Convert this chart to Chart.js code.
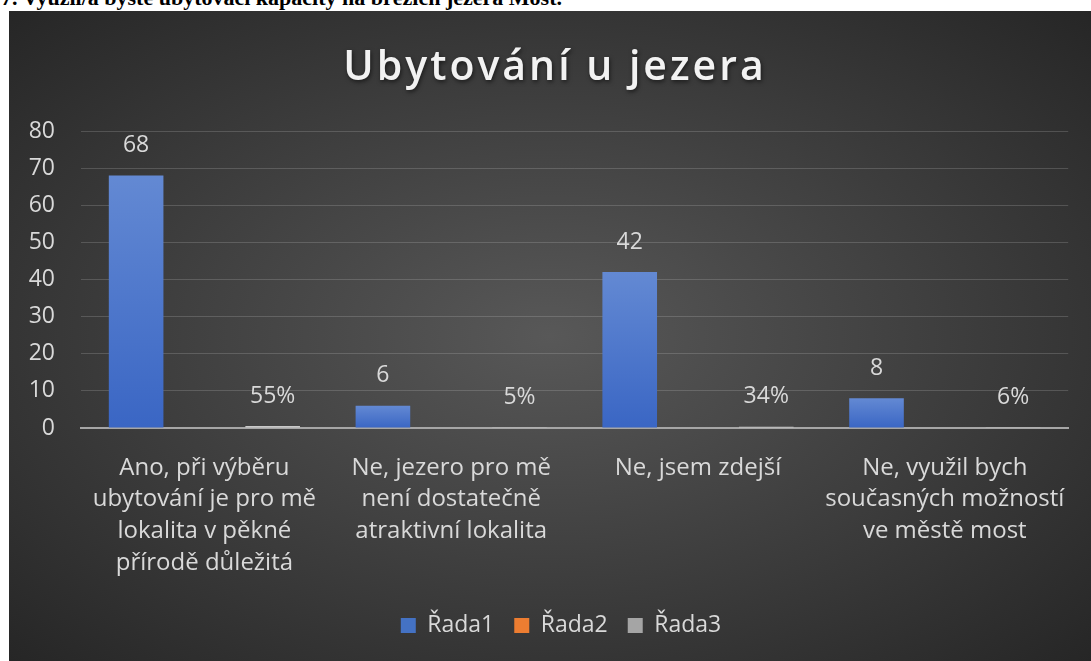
<!DOCTYPE html>
<html>
<head>
<meta charset="utf-8">
<script src="https://cdn.jsdelivr.net/npm/chart.js@4"></script>
<style>
  body { margin: 0; background: #fff; width: 1091px; height: 661px; overflow: hidden; position: relative; }
  #heading {
    position: absolute; left: 1px; top: -13px;
    font: bold 22px "Liberation Serif", "Times New Roman", serif;
    line-height: 1; color: #000; white-space: nowrap;
  }
  #box {
    position: absolute; left: 9px; top: 11px; width: 1082px; height: 650px;
    background: radial-gradient(ellipse farthest-corner at 50% 50%, #585858 0%, #262626 100%);
  }
</style>
</head>
<body>
<div id="heading">7. Využil/a byste ubytovací kapacity na březích jezera Most.</div>
<div id="box"><canvas id="chart" width="1082" height="650"></canvas></div>
<script>
const chartTitle = 'Ubytování u jezera';
const categories = [
  ['Ano, při výběru', 'ubytování je pro mě', 'lokalita v pěkné', 'přírodě důležitá'],
  ['Ne, jezero pro mě', 'není dostatečně', 'atraktivní lokalita'],
  ['Ne, jsem zdejší'],
  ['Ne, využil bych', 'současných možností', 've městě most']
];
const seriesNames = ['Řada1', 'Řada2', 'Řada3'];
const rada1 = [68, 6, 42, 8];
const rada2 = [0, 0, 0, 0];
const rada3 = [0.55, 0.05, 0.34, 0.06];
const yTicks = [0, 10, 20, 30, 40, 50, 60, 70, 80];

const textColor = '#d9d9d9';
const font = '"Open Sans", "DejaVu Sans", sans-serif';

// blue bars get a light-to-dark vertical gradient, per bar
function blueFill(ctx) {
  const chart = ctx.chart;
  if (!chart.chartArea || ctx.type !== 'data') return '#4472c4';
  const y = chart.scales.y;
  const top = y.getPixelForValue(ctx.parsed.y);
  const bottom = y.getPixelForValue(0);
  if (!isFinite(top) || bottom - top < 1) return '#4472c4';
  const g = chart.ctx.createLinearGradient(0, top, 0, bottom);
  g.addColorStop(0, '#6389d3');
  g.addColorStop(1, '#3a66c4');
  return g;
}

// value labels above the bars (series 1 as numbers, series 3 as percent)
const valueLabels = {
  id: 'valueLabels',
  afterDatasetsDraw(chart) {
    const c = chart.ctx;
    c.save();
    c.font = '23px ' + font;
    c.fillStyle = textColor;
    c.textAlign = 'center';
    c.textBaseline = 'middle';
    [0, 2].forEach(i => {
      const meta = chart.getDatasetMeta(i);
      const data = chart.data.datasets[i].data;
      meta.data.forEach((bar, j) => {
        const txt = i === 2 ? Math.round(data[j] * 100) + '%' : String(data[j]);
        c.fillText(txt, bar.x, bar.y - 30);
      });
    });
    c.restore();
  }
};

// title drawn by hand so it can have letter spacing
const spacedTitle = {
  id: 'spacedTitle',
  afterDraw(chart) {
    const c = chart.ctx;
    c.save();
    c.font = '600 41px ' + font;
    c.letterSpacing = '3px';
    c.fillStyle = '#f2f2f2';
    c.textAlign = 'center';
    c.textBaseline = 'alphabetic';
    c.shadowColor = 'rgba(0,0,0,0.55)';
    c.shadowBlur = 4;
    c.shadowOffsetX = 1;
    c.shadowOffsetY = 2;
    c.fillText(chartTitle, 546, 69);
    c.restore();
  }
};

new Chart(document.getElementById('chart'), {
  type: 'bar',
  data: {
    labels: categories,
    datasets: [
      { label: seriesNames[0], data: rada1, backgroundColor: blueFill, borderWidth: 0 },
      { label: seriesNames[1], data: rada2, backgroundColor: '#ed7d31', borderWidth: 0 },
      { label: seriesNames[2], data: rada3, backgroundColor: '#c9c9c9', borderWidth: 0 }
    ]
  },
  options: {
    responsive: false,
    animation: false,
    categoryPercentage: 0.83,
    barPercentage: 0.8,
    // negative right padding + empty right axis shifts the legend centre right
    layout: { padding: { top: 120, right: -22, left: 0, bottom: 14 } },
    plugins: {
      title: { display: false },
      tooltip: { enabled: false },
      legend: {
        position: 'bottom',
        labels: {
          color: textColor,
          font: { family: font, size: 23 },
          boxWidth: 15,
          boxHeight: 15,
          padding: 20,
          generateLabels(chart) {
            const cols = ['#4472c4', '#ed7d31', '#a5a5a5'];
            return chart.data.datasets.map((ds, i) => ({
              text: ds.label, fillStyle: cols[i], strokeStyle: cols[i],
              lineWidth: 0, datasetIndex: i, fontColor: textColor
            }));
          }
        }
      }
    },
    scales: {
      x: {
        grid: { display: false, drawTicks: false },
        border: { display: true, color: '#a6a6a6', width: 2 },
        ticks: {
          color: textColor,
          font: { family: font, size: 24, lineHeight: 1.32 },
          padding: 24,
          maxRotation: 0,
          autoSkip: false
        },
        afterFit(scale) { scale.height = 166; }
      },
      y: {
        min: 0,
        max: 80,
        afterBuildTicks(scale) { scale.ticks = yTicks.map(v => ({ value: v })); },
        grid: {
          color: ctx => ctx.tick && ctx.tick.value === 0 ? 'rgba(0,0,0,0)' : 'rgba(217,217,217,0.2)',
          lineWidth: 1,
          drawTicks: false
        },
        border: { display: false },
        ticks: {
          color: textColor,
          font: { family: font, size: 23 },
          padding: 26
        },
        afterFit(scale) { scale.width = 72; }
      },
      yr: {
        position: 'right',
        display: true,
        grid: { display: false, drawTicks: false },
        border: { display: false },
        ticks: { display: false },
        afterFit(scale) { scale.width = 43; }
      }
    }
  },
  plugins: [valueLabels, spacedTitle]
});
</script>
</body>
</html>
